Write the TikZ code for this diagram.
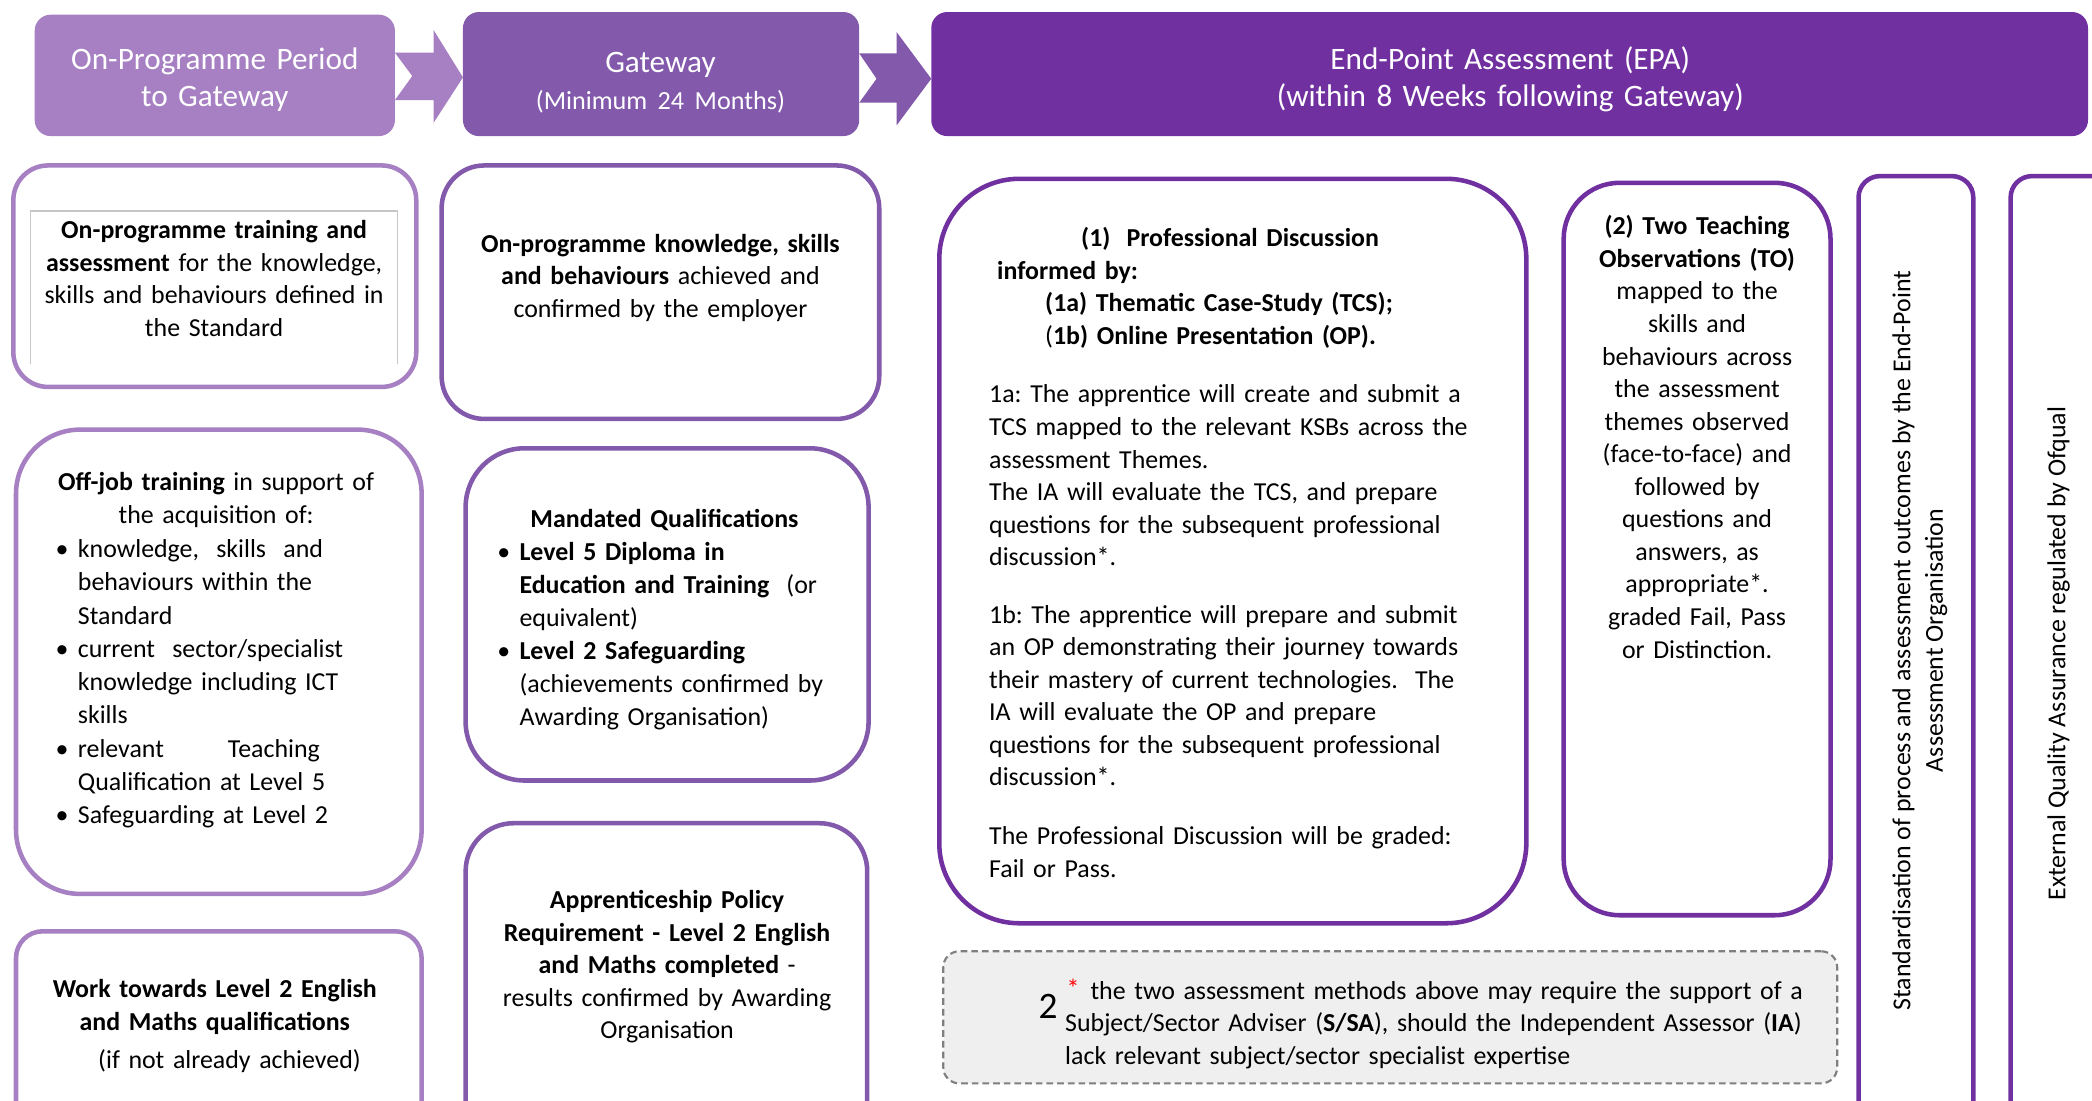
\documentclass[tikz,border=0pt]{standalone}
\usepackage{fontspec}
\setmainfont{Carlito}
\usetikzlibrary{fit}
\frenchspacing
\definecolor{pA}{HTML}{A680C2}
\definecolor{pB}{HTML}{8259AB}
\definecolor{pC}{HTML}{7030A0}
\definecolor{noteback}{HTML}{EFEFEF}
\definecolor{notedash}{HTML}{7F7F7F}
\newcommand\bodyfont{\fontsize{9.7}{12.2}\selectfont}
\newcommand\hdrfont{\fontsize{11.7}{14}\selectfont}
\newcommand\subfont{\fontsize{9.8}{14}\selectfont}
\newcommand\bul{\leavevmode\llap{\textbullet\hspace{3.5pt}}}
\tikzset{
  hdr/.style={fill=#1, rounded corners=6pt, inner sep=0pt},
  frame/.style={draw=#1, line width=1.7pt, inner sep=0pt},
  hdrtxt/.style={inner sep=0pt, text=white, font=\hdrfont, align=center, text width=200pt, anchor=base},
  ctxt/.style={inner sep=0pt, font=\bodyfont, align=center, text width=#1, anchor=base},
  ltxt/.style={inner sep=0pt, font=\bodyfont, align=left, text width=#1, anchor=base west},
}
\begin{document}
\begin{tikzpicture}[x=0.5pt,y=-0.5pt]
\clip (0,0) rectangle (1568,825.2);
\fill[white] (0,0) rectangle (1568,825.2);

% ---------- header ----------
\node[hdr=pA, fit={(26,11)(296,102)}] (h1) {};
\node[hdr=pB, fit={(347,9)(644,102)}] (h2) {};
\node[hdr=pC, fit={(698,9)(1565,102)}] (h3) {};
\fill[pA] (296,39.5) -- (325,39.5) -- (325,22.5) -- (347,58) -- (325,92) -- (325,75) -- (296,75) -- (309,57) -- cycle;
\fill[pB] (644,40) -- (672,40) -- (672,24) -- (698,59) -- (672,94) -- (672,77) -- (644,77) -- (657,59) -- cycle;

\node[hdrtxt] (h1t) at (161,52) {On-Programme Period\\to Gateway};
\node[hdrtxt] (h2t) at (495,54) {Gateway\\{\subfont (Minimum 24 Months)}};
\node[hdrtxt, text width=300pt] (h3t) at (1132,52) {End-Point Assessment (EPA)\\(within 8 Weeks following Gateway)};

% ---------- column 1 ----------
\node[frame=pA, rounded corners=13pt, fit={(10,124)(312,290)}] (b1) {};
\draw[gray!45, line width=0.6pt] (23,273) -- (23,158) -- (298,158) -- (298,273);
\node[ctxt=140pt] (b1t) at (160.5,179) {\textbf{On-programme training and}\\ \textbf{assessment} for the knowledge,\\ skills and behaviours defined in\\ the Standard};

\node[frame=pA, rounded corners=24pt, fit={(12,322)(316,670)}] (b7) {};
\node[ctxt=140pt] (b7h) at (162,368) {\textbf{Off-job training} in support of\\ the acquisition of:};
\node[ltxt=110pt, font=\fontsize{9.7}{12.45}\selectfont] (b7t) at (58,418) {\bul knowledge,\ \ skills\ \ and\\ behaviours within the\\ Standard\\ \bul current\ \ sector/specialist\\ knowledge including ICT\\ skills\\ \bul relevant\hspace{24pt}Teaching\\ Qualification at Level 5\\ \bul Safeguarding at Level 2};

\node[frame=pA, rounded corners=10pt, fit={(12,698)(316,860)}] (b9) {};
\node[ctxt=140pt] (b9t) at (161,748) {\textbf{Work towards Level 2 English}\\ \textbf{and Maths qualifications}\\[2pt] \hspace*{11pt}(if not already achieved)};

% ---------- column 2 ----------
\node[frame=pB, rounded corners=16pt, fit={(331,124)(659,314)}] (b2) {};
\node[ctxt=150pt] (b2t) at (495,189) {\textbf{On-programme knowledge, skills}\\ \textbf{and behaviours} achieved and\\ confirmed by the employer};

\node[frame=pB, rounded corners=22pt, fit={(349,336)(651,585)}] (b8) {};
\node[ctxt=140pt] (b8h) at (498,395) {\textbf{Mandated Qualifications}};
\node[ltxt=125pt, font=\fontsize{9.7}{12.35}\selectfont] (b8t) at (389,420) {\bul\textbf{Level 5 Diploma in}\\ \textbf{Education and Training}\ \ (or\\ equivalent)\\ \bul\textbf{Level 2 Safeguarding}\\ (achievements confirmed by\\ Awarding Organisation)};

\node[frame=pB, rounded corners=18pt, fit={(349,617)(650,860)}] (b10) {};
\node[ctxt=140pt] (b10t) at (500,681) {\textbf{Apprenticeship Policy}\\ \textbf{Requirement - Level 2 English}\\ \textbf{and Maths completed} -\\ results confirmed by Awarding\\ Organisation};

% ---------- EPA ----------
\node[frame=pC, rounded corners=30pt, fit={(704,134)(1144,692)}] (b3) {};
\node[ltxt=200pt] (b3h) at (747,185) {\hspace*{31.5pt}\textbf{(1)\hspace{6pt}Professional Discussion}\\ \textbf{informed by:}\\ \hspace*{18pt}\textbf{(1a) Thematic Case-Study (TCS);}\\ \hspace*{18pt}(\textbf{1b) Online Presentation (OP).}};
\node[ltxt=200pt] (b3a) at (741,302) {1a: The apprentice will create and submit a\\ TCS mapped to the relevant KSBs across the\\ assessment Themes.\\ The IA will evaluate the TCS, and prepare\\ questions for the subsequent professional\\ discussion*.};
\node[ltxt=200pt] (b3b) at (741,467) {1b: The apprentice will prepare and submit\\ an OP demonstrating their journey towards\\ their mastery of current technologies.\ \ The\\ IA will evaluate the OP and prepare\\ questions for the subsequent professional\\ discussion*.};
\node[ltxt=200pt] (b3c) at (741,633) {The Professional Discussion will be graded:\\ Fail or Pass.};

\node[frame=pC, rounded corners=21pt, fit={(1172,137)(1372,686)}] (b4) {};
\node[ctxt=90pt] (b4t) at (1272,176) {\textbf{(2) Two Teaching}\\ \textbf{Observations (TO)}\\ mapped to the\\ skills and\\ behaviours across\\ the assessment\\ themes observed\\ (face-to-face) and\\ followed by\\ questions and\\ answers, as\\ appropriate*.\\ graded Fail, Pass\\ or Distinction.};

\node[frame=pC, rounded corners=8pt, fit={(1393,132)(1479,860)}] (b5) {};
\node[inner sep=0pt, font=\bodyfont, align=center, rotate=90] (b5t) at (1439,480) {Standardisation of process and assessment outcomes by the End-Point\\ Assessment Organisation};

\node[frame=pC, rounded corners=8pt, fit={(1507,132)(1600,860)}] (b6) {};
\node[inner sep=0pt, font=\bodyfont, align=center, rotate=90] (b6t) at (1543,490) {External Quality Assurance regulated by Ofqual};

% ---------- note ----------
\node[draw=notedash, fill=noteback, dash pattern=on 2.5pt off 1.5pt, line width=0.8pt, rounded corners=6pt, inner sep=0pt, fit={(707,713)(1377,812)}] (note) {};
\node[inner sep=0pt, anchor=base west, font=\fontsize{14}{14}\selectfont] (n2) at (778,763) {2};
\node[inner sep=0pt, anchor=base west, text=red, font=\bodyfont] (nstar) at (799,748) {*};
\node[ltxt=300pt] (nt) at (798,749) {\hspace*{9.5pt}the two assessment methods above may require the support of a\\ Subject/Sector Adviser (\textbf{S/SA}), should the Independent Assessor (\textbf{IA})\\ lack relevant subject/sector specialist expertise};
\end{tikzpicture}
\end{document}
